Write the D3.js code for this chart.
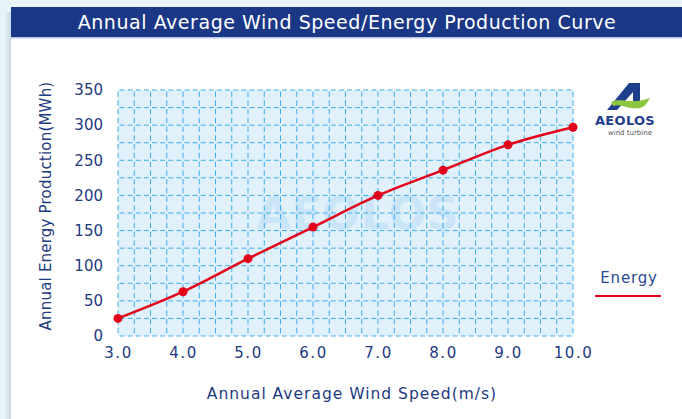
<!DOCTYPE html>
<html><head><meta charset="utf-8">
<script src="https://cdn.jsdelivr.net/npm/d3@7"></script>
<style>
html,body{margin:0;padding:0;background:#e9f4fa;}
svg{display:block;}
</style></head>
<body>
<script>
const windSpeeds = [3, 4, 5, 6, 7, 8, 9, 10];
const energy = [25, 63, 110, 155, 200, 236, 272, 297];
const xTicks = [3, 4, 5, 6, 7, 8, 9, 10];
const yTicks = [0, 50, 100, 150, 200, 250, 300, 350];
const titleText = "Annual Average Wind Speed/Energy Production Curve";
const xTitle = "Annual Average Wind Speed(m/s)";
const yTitle = "Annual Energy Production(MWh)";
const legendLabel = "Energy";

const W = 682, H = 419;
const svg = d3.select("body").append("svg").attr("width", W).attr("height", H);
const font = "'DejaVu Sans', Verdana, sans-serif";

// page and panel
const defs = svg.append("defs");
const sh = defs.append("linearGradient").attr("id","sh").attr("x1",0).attr("x2",1);
sh.append("stop").attr("offset",0).attr("stop-color","#e9f4fa");
sh.append("stop").attr("offset",1).attr("stop-color","#c9d9e3");
svg.append("rect").attr("width",W).attr("height",H).attr("fill","#e9f4fa");
svg.append("rect").attr("x",4).attr("y",12).attr("width",7).attr("height",H).attr("fill","url(#sh)");
svg.append("rect").attr("x",11).attr("y",7).attr("width",W-11).attr("height",H).attr("fill","#ffffff");
svg.append("rect").attr("x",11).attr("y",7).attr("width",W-11).attr("height",30).attr("fill","#1a3886");
svg.append("rect").attr("x",11).attr("y",37).attr("width",W-11).attr("height",1.5).attr("fill","#b8c8e6");
svg.append("text").attr("x",347).attr("y",29).attr("text-anchor","middle")
  .attr("font-family",font).attr("font-size",19).attr("letter-spacing",0.55).attr("fill","#ffffff").text(titleText);

const x = d3.scaleLinear().domain([3,10]).range([118,573]);
const y = d3.scaleLinear().domain([0,350]).range([336,90]);

// plot background
svg.append("rect").attr("x",x(3)).attr("y",y(350)).attr("width",x(10)-x(3)).attr("height",y(0)-y(350)).attr("fill","#e1f1fb");

// watermark
svg.append("text").attr("x",358).attr("y",229).attr("text-anchor","middle")
  .attr("font-family",font).attr("font-weight","bold").attr("font-size",44).attr("letter-spacing",1)
  .attr("fill","#c6e3f8").attr("opacity",0.85).text("AEOLOS");

// grid
const gx = d3.range(3, 10.001, 0.25);
const gy = d3.range(0, 350.001, 25);
const grid = svg.append("g").attr("stroke","#3cadee").attr("stroke-width",1);
grid.selectAll("line.v").data(gx).join("line").attr("class","v")
  .attr("x1",d=>x(d)).attr("x2",d=>x(d)).attr("y1",y(350)).attr("y2",y(0))
  .attr("stroke-dasharray","5.5,3.25").attr("stroke-dashoffset",-1.5);
grid.selectAll("line.h").data(gy).join("line").attr("class","h")
  .attr("x1",x(3)).attr("x2",x(10)).attr("y1",d=>y(d)).attr("y2",d=>y(d))
  .attr("stroke-dasharray","5,3.125").attr("stroke-dashoffset",-1.5);

// axes labels
const yAxis = d3.axisLeft(y).tickValues(yTicks).tickSize(0).tickPadding(15);
const ya = svg.append("g").attr("transform",`translate(${x(3)},0)`).call(yAxis);
ya.select(".domain").remove();
ya.selectAll("text").attr("font-family",font).attr("font-size",15).attr("fill","#1e3a80");

const xAxis = d3.axisBottom(x).tickValues(xTicks).tickFormat(d3.format(".1f")).tickSize(0).tickPadding(11);
const xa = svg.append("g").attr("transform",`translate(0,${y(0)})`).call(xAxis);
xa.select(".domain").remove();
xa.selectAll("text").attr("font-family",font).attr("font-size",15).attr("fill","#1e3a80").attr("letter-spacing",1.5);

svg.append("text").attr("x",352).attr("y",399).attr("text-anchor","middle")
  .attr("font-family",font).attr("font-size",15.5).attr("letter-spacing",1).attr("fill","#1e3a80").text(xTitle);
svg.append("text").attr("transform","translate(51,206) rotate(-90)").attr("text-anchor","middle")
  .attr("font-family",font).attr("font-size",15).attr("letter-spacing",0.2).attr("fill","#1e3a80").text(yTitle);

// line
const pts = windSpeeds.map((w,i)=>[w, energy[i]]);
svg.append("path").datum(pts)
  .attr("d", d3.line().x(d=>x(d[0])).y(d=>y(d[1])).curve(d3.curveMonotoneX))
  .attr("fill","none").attr("stroke","#e2001a").attr("stroke-width",2.5);
svg.selectAll("circle.pt").data(pts).join("circle").attr("class","pt")
  .attr("cx",d=>x(d[0])).attr("cy",d=>y(d[1])).attr("r",4.5).attr("fill","#e2001a");

// legend
svg.append("text").attr("x",629).attr("y",283).attr("text-anchor","middle")
  .attr("font-family",font).attr("font-size",15).attr("fill","#2a4a92").attr("letter-spacing",0.8).text(legendLabel);
svg.append("line").attr("x1",595).attr("x2",661).attr("y1",296).attr("y2",296)
  .attr("stroke","#e2001a").attr("stroke-width",2);

// logo
const logo = svg.append("g");
logo.append("path").attr("d","M607,110 L629,83 L640,83 L640,106 L633,106 L633,92 L617,110 Z")
  .attr("fill","#1f3e8c");
logo.append("path").attr("d","M611,102 C621,97 630,105 650,98 C647,103 645,107 640,108 C628,110 621,103 613,106 Z")
  .attr("fill","#8cc63f");
logo.append("text").attr("x",625).attr("y",125).attr("text-anchor","middle")
  .attr("font-family",font).attr("font-weight","bold").attr("font-size",13).attr("letter-spacing",0.3).attr("fill","#1f3e8c").text("AEOLOS");
logo.append("text").attr("x",630).attr("y",135).attr("text-anchor","middle")
  .attr("font-family",font).attr("font-size",7).attr("fill","#555").text("wind turbine");
</script>
</body></html>
